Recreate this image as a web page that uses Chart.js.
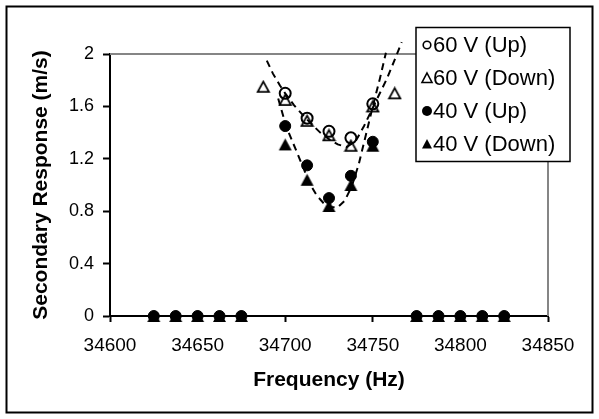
<!DOCTYPE html>
<html>
<head>
<meta charset="utf-8">
<title>Secondary Response</title>
<script src="https://cdn.jsdelivr.net/npm/chart.js@4.4.1/dist/chart.umd.min.js"></script>
<style>
  body { margin: 0; background: #fff; }
  #wrap { width: 599px; height: 419px; }
</style>
</head>
<body>
<div id="wrap"><canvas id="chart" width="599" height="419"></canvas></div>
<script>
// sweep frequencies (Hz) and measured secondary response (m/s)
const freqUp60 = [34700, 34712.5, 34725, 34737.5, 34750];
const respUp60 = [1.70, 1.51, 1.41, 1.36, 1.62];

const freqDown60 = [34687.5, 34700, 34712.5, 34725, 34737.5, 34750, 34762.5];
const respDown60 = [1.75, 1.65, 1.49, 1.38, 1.30, 1.60, 1.70];

const freq40 = [34625, 34637.5, 34650, 34662.5, 34675, 34700, 34712.5, 34725, 34737.5, 34750, 34775, 34787.5, 34800, 34812.5, 34825];
const respUp40 = [0, 0, 0, 0, 0, 1.45, 1.15, 0.90, 1.07, 1.33, 0, 0, 0, 0, 0];
const respDown40 = [0, 0, 0, 0, 0, 1.31, 1.04, 0.84, 1.00, 1.30, 0, 0, 0, 0, 0];

// fitted curves (dashed)
const fitFreq60 = [34689.5, 34693, 34697, 34700, 34705, 34710, 34715, 34720, 34725, 34730, 34735, 34740, 34745, 34750, 34754, 34758, 34762, 34766.5];
const fitResp60 = [1.95, 1.85, 1.76, 1.70, 1.61, 1.535, 1.465, 1.40, 1.35, 1.31, 1.29, 1.33, 1.45, 1.59, 1.70, 1.81, 1.94, 2.09];
const fitFreq40 = [34696, 34699, 34702, 34707, 34711, 34714, 34718, 34722, 34726, 34730, 34734, 34738, 34742, 34746, 34750, 34754, 34757.5];
const fitResp40 = [1.66, 1.52, 1.40, 1.24, 1.11, 1.01, 0.92, 0.86, 0.83, 0.83, 0.88, 0.99, 1.16, 1.38, 1.60, 1.81, 2.01];

const freqTicks = [34600, 34650, 34700, 34750, 34800, 34850];
const respTicks = [0, 0.4, 0.8, 1.2, 1.6, 2];

const family = '"Liberation Sans", Arial, sans-serif';

function pairs(xs, ys) {
  return xs.map((x, i) => ({ x: x, y: ys[i] }));
}

// triangle marker centred on its box (chart.js' own triangle sits high)
function triangleMark(w, h, filled) {
  const c = document.createElement('canvas');
  c.width = w + 2;
  c.height = h + 2;
  const g = c.getContext('2d');
  const lw = filled ? 0 : 1.8;
  g.beginPath();
  g.moveTo(c.width / 2, 1 + lw / 2);
  g.lineTo(c.width - 1 - lw / 2, c.height - 1 - lw / 2);
  g.lineTo(1 + lw / 2, c.height - 1 - lw / 2);
  g.closePath();
  g.fillStyle = '#000';
  g.strokeStyle = '#000';
  if (filled) {
    g.fill();
  } else {
    g.lineWidth = lw;
    g.lineJoin = 'miter';
    g.stroke();
  }
  return c;
}

const openTri = triangleMark(13, 12, false);
const solidTri = triangleMark(13, 12, true);

function markerSet(label, xs, ys, style, filled) {
  return {
    label: label,
    data: pairs(xs, ys),
    showLine: false,
    clip: false,
    pointStyle: style === 'triangle' ? (filled ? solidTri : openTri) : 'circle',
    pointRadius: 5.5,
    pointBorderWidth: filled ? 1 : 2,
    pointBorderColor: '#000',
    pointBackgroundColor: filled ? '#000' : 'rgba(0,0,0,0)',
    inKey: true,
    shape: style,
    filled: filled
  };
}

function fitSet(xs, ys) {
  return {
    label: '',
    data: pairs(xs, ys),
    showLine: true,
    clip: false,
    borderColor: '#000',
    borderWidth: 2,
    borderDash: [7, 5],
    pointRadius: 0,
    tension: 0,
    inKey: false
  };
}

// white page + black outer frame, grey plot frame on top/right
const frame = {
  id: 'frame',
  beforeDraw(chart) {
    const ctx = chart.ctx;
    ctx.save();
    ctx.fillStyle = '#fff';
    ctx.fillRect(0, 0, chart.width, chart.height);
    ctx.strokeStyle = '#000';
    ctx.lineWidth = 2;
    ctx.strokeRect(6.5, 6.5, chart.width - 13, chart.height - 13);
    ctx.restore();
  },
  beforeDatasetsDraw(chart) {
    const { ctx, chartArea: a } = chart;
    ctx.save();
    ctx.strokeStyle = '#858585';
    ctx.lineWidth = 2;
    ctx.beginPath();
    ctx.moveTo(a.left, a.top);
    ctx.lineTo(a.right, a.top);
    ctx.lineTo(a.right, a.bottom);
    ctx.stroke();
    ctx.restore();
  }
};

function drawMark(ctx, shape, filled, x, y) {
  ctx.beginPath();
  if (shape === 'triangle') {
    ctx.moveTo(x, y - 5);
    ctx.lineTo(x + 5, y + 4.5);
    ctx.lineTo(x - 5, y + 4.5);
    ctx.closePath();
  } else {
    ctx.arc(x, y, filled ? 5 : 3.8, 0, Math.PI * 2);
  }
  if (filled) {
    ctx.fill();
  } else {
    ctx.lineWidth = 1.6;
    ctx.stroke();
  }
}

// boxed key in the upper right corner
const key = {
  id: 'key',
  afterDraw(chart) {
    const ctx = chart.ctx;
    const sets = chart.data.datasets.filter(d => d.inKey);
    ctx.save();
    ctx.fillStyle = '#fff';
    ctx.fillRect(416, 27.5, 154, 134);
    ctx.strokeStyle = '#000';
    ctx.lineWidth = 1.5;
    ctx.strokeRect(416, 27.5, 154, 134);
    ctx.font = '22px ' + family;
    ctx.textBaseline = 'middle';
    ctx.fillStyle = '#000';
    ctx.strokeStyle = '#000';
    sets.forEach((d, i) => {
      const y = 45 + i * 33;
      drawMark(ctx, d.shape, d.filled, 427, y);
      ctx.fillText(d.label, 433, y + 1);
    });
    ctx.restore();
  }
};

new Chart(document.getElementById('chart'), {
  type: 'scatter',
  data: {
    datasets: [
      fitSet(fitFreq60, fitResp60),
      fitSet(fitFreq40, fitResp40),
      markerSet('60 V (Up)', freqUp60, respUp60, 'circle', false),
      markerSet('60 V (Down)', freqDown60, respDown60, 'triangle', false),
      markerSet('40 V (Up)', freq40, respUp40, 'circle', true),
      markerSet('40 V (Down)', freq40, respDown40, 'triangle', true)
    ]
  },
  options: {
    responsive: false,
    animation: false,
    devicePixelRatio: 1,
    events: [],
    layout: { padding: { left: 0, top: 54, right: 51, bottom: 0 } },
    plugins: {
      legend: { display: false },
      tooltip: { enabled: false }
    },
    scales: {
      x: {
        type: 'linear',
        min: 34600,
        max: 34850,
        afterFit(s) { s.height = 103; },
        afterBuildTicks(s) { s.ticks = freqTicks.map(v => ({ value: v })); },
        ticks: {
          color: '#000',
          font: { size: 19, family: family },
          padding: 12,
          maxRotation: 0,
          callback: v => String(v)
        },
        grid: { drawOnChartArea: false, drawTicks: true, tickLength: 6, tickColor: '#000', tickWidth: 2 },
        border: { color: '#000', width: 2 },
        title: {
          display: true,
          text: 'Frequency (Hz)',
          color: '#000',
          font: { size: 21, weight: 'bold', family: family },
          padding: { top: 0, bottom: 26 }
        }
      },
      y: {
        type: 'linear',
        min: 0,
        max: 2,
        afterFit(s) { s.width = 110; },
        afterBuildTicks(s) { s.ticks = respTicks.map(v => ({ value: v })); },
        ticks: {
          color: '#000',
          font: { size: 18, family: family },
          padding: 9,
          callback: v => String(v)
        },
        grid: { drawOnChartArea: false, drawTicks: true, tickLength: 7, tickColor: '#000', tickWidth: 2 },
        border: { color: '#000', width: 2 },
        title: {
          display: true,
          text: 'Secondary Response (m/s)',
          color: '#000',
          font: { size: 21, weight: 'bold', family: family },
          padding: { top: 29, bottom: 0 }
        }
      }
    }
  },
  plugins: [frame, key]
});
</script>
</body>
</html>
